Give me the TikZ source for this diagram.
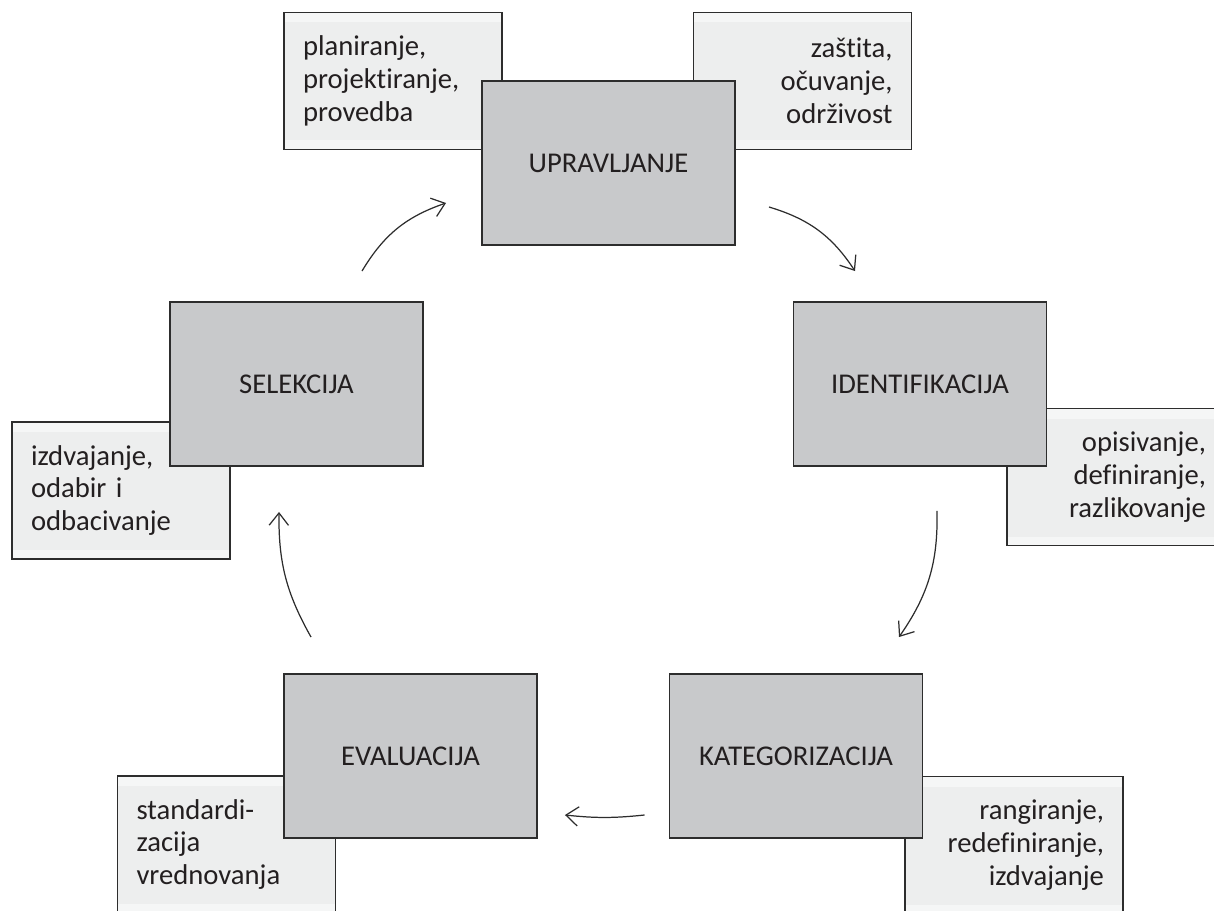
\documentclass[tikz,border=0pt]{standalone}
\usepackage{fontspec}
\setmainfont{Carlito}[Ligatures={NoCommon,NoRequired}]
\usetikzlibrary{arrows.meta}
\definecolor{boxgray}{RGB}{200,201,203}
\definecolor{notegray}{RGB}{237,238,238}
\definecolor{notelight}{RGB}{245,246,246}
\definecolor{edgegray}{RGB}{45,45,45}
\definecolor{inkgray}{RGB}{35,31,32}
\begin{document}
\begin{tikzpicture}[font=\fontsize{16.3}{18.7}\selectfont,
  stage/.style={draw=edgegray,line width=1.1pt,fill=boxgray,text=inkgray,
    minimum width=5.06cm,minimum height=3.28cm,inner sep=0pt},
  note/.style={draw=edgegray,line width=1.1pt,fill=notegray,text=inkgray,
    minimum width=4.36cm,minimum height=2.74cm,inner xsep=0.38cm,inner ysep=0pt,text width=3.6cm,
    path picture={
      \fill[notelight] (path picture bounding box.north west) rectangle ([yshift=-0.2cm]path picture bounding box.north east);
      \fill[notelight] (path picture bounding box.south west) rectangle ([yshift=0.18cm]path picture bounding box.south east);}},
  flowarrow/.style={-{Straight Barb[length=7pt,width=11pt]},line width=0.7pt,draw=edgegray}]
\useasboundingbox (0,0) rectangle (24.28,18.2);
\clip (0,0) rectangle (24.28,18.2);
% side notes
\node[note,align=left] (plan) at (7.86,16.58) {planiranje,\\projektiranje,\\provedba};
\node[note,align=right] (zast) at (16.05,16.58) {zaštita,\\očuvanje,\\održivost};
\node[note,align=left] (izdv) at (2.42,8.39) {izdvajanje,\\odabir i\\odbacivanje};
\node[note,align=right] (opis) at (22.32,8.66) {opisivanje,\\definiranje,\\razlikovanje};
\node[note,align=right] (rang) at (20.28,1.30) {rangiranje,\\redefiniranje,\\izdvajanje};
\node[note,align=left] (stand) at (4.53,1.31) {standardi-\\zacija\\vrednovanja};
% stages
\node[stage] (upr) at (12.17,14.94) {UPRAVLJANJE};
\node[stage] (sel) at (5.93,10.52) {SELEKCIJA};
\node[stage] (ident) at (18.40,10.52) {IDENTIFIKACIJA};
\node[stage] (kat) at (15.92,3.08) {KATEGORIZACIJA};
\node[stage] (eval) at (8.21,3.08) {EVALUACIJA};
% cycle
\draw[flowarrow] ([shift={(1.31,0.6)}]sel.north) to[bend left=20] ([shift={(-0.7,-0.8)}]upr.west);
\draw[flowarrow] ([shift={(0.66,-0.88)}]upr.east) to[bend left=20] ([shift={(-1.3,0.6)}]ident.north);
\draw[flowarrow] ([shift={(0.34,-0.88)}]ident.south) to[bend left=18] ([shift={(2.06,0.72)}]kat.north);
\draw[flowarrow] ([shift={(-0.48,-1.18)}]kat.west) to[bend left=6] ([shift={(0.54,-1.18)}]eval.east);
\draw[flowarrow] ([shift={(-1.99,0.72)}]eval.north) to[bend left=15] ([shift={(-0.35,-0.9)}]sel.south);
\end{tikzpicture}
\end{document}
